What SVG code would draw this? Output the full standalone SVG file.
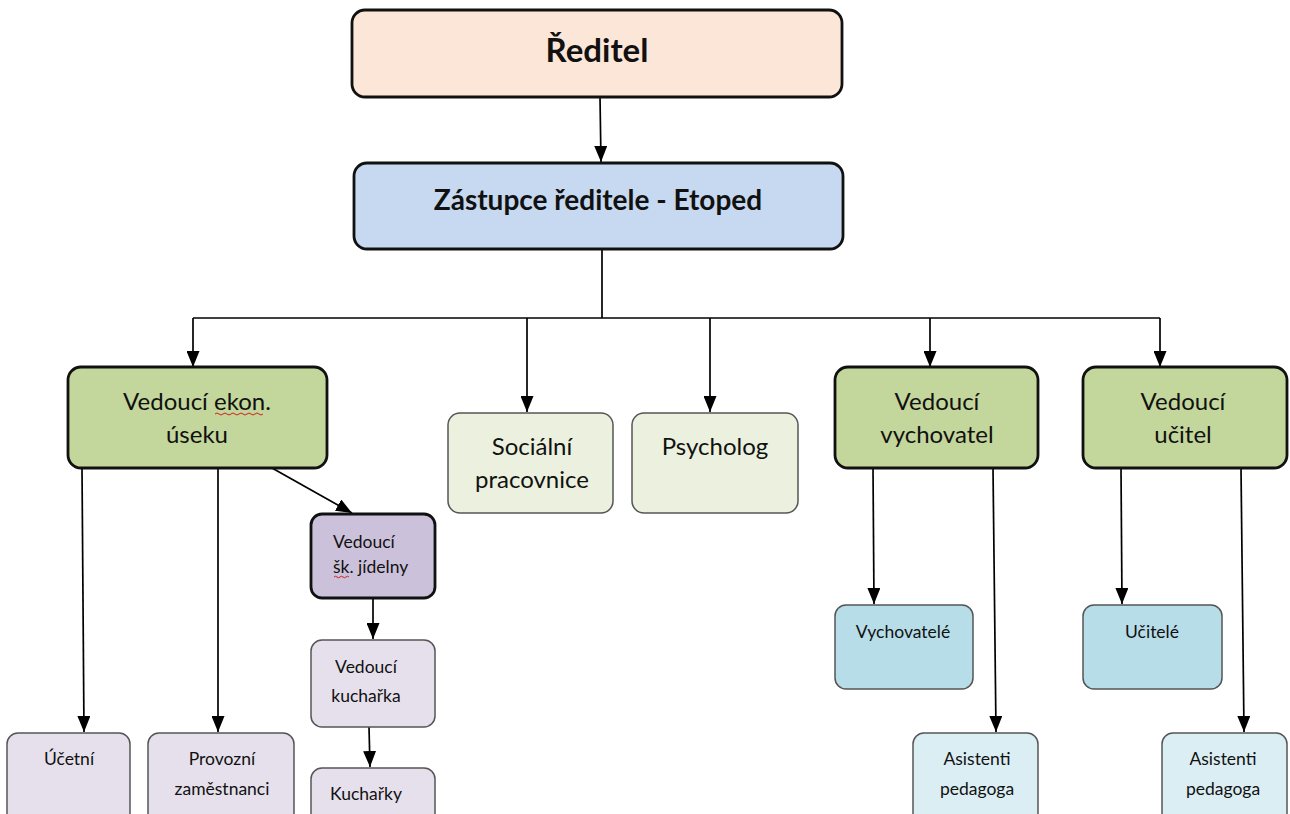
<svg xmlns="http://www.w3.org/2000/svg" width="1290" height="814" viewBox="0 0 1290 814">
<defs>
<marker id="ah" viewBox="0 0 16 13" refX="16" refY="6.5" markerWidth="16" markerHeight="13" markerUnits="userSpaceOnUse" orient="auto">
<path d="M0,0 L16,6.5 L0,13 Z" fill="#000"/>
</marker>
<style>
.thick{stroke:#111;stroke-width:2.8}
.thin{stroke:#555;stroke-width:1.5}
.t{font-family:Lato,"Liberation Sans",sans-serif;fill:#111;text-anchor:middle}
.big{font-size:33px;font-weight:bold}
.mid{font-size:28px;font-weight:bold}
.g{font-size:24px}
.s{font-size:17.5px}
.c line,.c path{stroke:#000;stroke-width:1.7;fill:none}
.sq{stroke:#d02020;stroke-width:1;fill:none}
</style>
</defs>
<rect width="1290" height="814" fill="#fff"/>
<g class="c" id="connectors">
<line x1="600" y1="97" x2="601" y2="162" marker-end="url(#ah)"/>
<line x1="602" y1="249" x2="602" y2="318"/>
<line x1="193" y1="318" x2="1160" y2="318"/>
<line x1="193" y1="318" x2="193" y2="367" marker-end="url(#ah)"/>
<line x1="527" y1="318" x2="527" y2="412" marker-end="url(#ah)"/>
<line x1="710" y1="318" x2="710" y2="412" marker-end="url(#ah)"/>
<line x1="930" y1="318" x2="930" y2="367" marker-end="url(#ah)"/>
<line x1="1160" y1="318" x2="1160" y2="367" marker-end="url(#ah)"/>
<line x1="82" y1="468" x2="84" y2="732" marker-end="url(#ah)"/>
<line x1="218" y1="468" x2="218" y2="732" marker-end="url(#ah)"/>
<line x1="272" y1="468" x2="352" y2="513" marker-end="url(#ah)"/>
<line x1="373" y1="598" x2="373" y2="639" marker-end="url(#ah)"/>
<line x1="369" y1="727" x2="370" y2="767" marker-end="url(#ah)"/>
<line x1="873" y1="468" x2="874" y2="604" marker-end="url(#ah)"/>
<line x1="993" y1="468" x2="996" y2="732" marker-end="url(#ah)"/>
<line x1="1121" y1="468" x2="1122" y2="604" marker-end="url(#ah)"/>
<line x1="1241" y1="468" x2="1244" y2="732" marker-end="url(#ah)"/>
</g>
<g id="reditel">
<rect x="352" y="10" width="490" height="87" rx="13" fill="#FCE6D8" class="thick"/>
<text class="t big" x="597" y="62">Ředitel</text>
</g>
<g id="zastupce">
<rect x="354" y="163" width="489" height="86" rx="13" fill="#C6D9F0" class="thick"/>
<text class="t mid" x="598" y="210">Zástupce ředitele - Etoped</text>
</g>
<g id="vedouci-ekon">
<rect x="68" y="367" width="259" height="101" rx="13" fill="#C3D69B" class="thick"/>
<text class="t g" x="197" y="410">Vedoucí ekon.</text>
<text class="t g" x="197" y="443">úseku</text>
<path class="sq" d="M215,414 q2,-2 4,0 t4,0 t4,0 t4,0 t4,0 t4,0 t4,0 t4,0 t4,0 t4,0 t4,0 t4,0"/>
</g>
<g id="socialni">
<rect x="448" y="413" width="165" height="100" rx="12" fill="#EBF1DE" class="thin"/>
<text class="t g" x="532" y="455">Sociální</text>
<text class="t g" x="532" y="488">pracovnice</text>
</g>
<g id="psycholog">
<rect x="632" y="413" width="166" height="100" rx="12" fill="#EBF1DE" class="thin"/>
<text class="t g" x="715" y="455">Psycholog</text>
</g>
<g id="vedouci-vychovatel">
<rect x="835" y="367" width="203" height="101" rx="13" fill="#C3D69B" class="thick"/>
<text class="t g" x="937" y="410">Vedoucí</text>
<text class="t g" x="937" y="443">vychovatel</text>
</g>
<g id="vedouci-ucitel">
<rect x="1083" y="367" width="204" height="101" rx="13" fill="#C3D69B" class="thick"/>
<text class="t g" x="1183" y="410">Vedoucí</text>
<text class="t g" x="1183" y="443">učitel</text>
</g>
<g id="jidelny">
<rect x="311" y="514" width="124" height="84" rx="11" fill="#CCC1DA" class="thick"/>
<text class="t s" x="333" y="548" style="text-anchor:start">Vedoucí</text>
<text class="t s" x="333" y="573" style="text-anchor:start">šk. jídelny</text>
<path class="sq" d="M334,577 q1.5,-1.5 3,0 t3,0 t3,0 t3,0 t3,0"/>
</g>
<g id="kucharka">
<rect x="311" y="640" width="124" height="87" rx="11" fill="#E5E0EC" class="thin"/>
<text class="t s" x="366" y="673">Vedoucí</text>
<text class="t s" x="366" y="702">kuchařka</text>
</g>
<g id="kucharky">
<rect x="311" y="768" width="124" height="70" rx="11" fill="#E5E0EC" class="thin"/>
<text class="t s" x="366" y="800">Kuchařky</text>
</g>
<g id="ucetni">
<rect x="7" y="733" width="123" height="100" rx="11" fill="#E5E0EC" class="thin"/>
<text class="t s" x="69" y="765">Účetní</text>
</g>
<g id="provozni">
<rect x="148" y="733" width="146" height="100" rx="11" fill="#E5E0EC" class="thin"/>
<text class="t s" x="222" y="765">Provozní</text>
<text class="t s" x="222" y="795">zaměstnanci</text>
</g>
<g id="vychovatele">
<rect x="835" y="605" width="138" height="84" rx="11" fill="#B7DDE8" class="thin"/>
<text class="t s" x="903" y="638">Vychovatelé</text>
</g>
<g id="ucitele">
<rect x="1083" y="605" width="139" height="84" rx="11" fill="#B7DDE8" class="thin"/>
<text class="t s" x="1152" y="638">Učitelé</text>
</g>
<g id="asistenti-1">
<rect x="913" y="733" width="125" height="100" rx="11" fill="#DBEEF3" class="thin"/>
<text class="t s" x="977" y="765">Asistenti</text>
<text class="t s" x="977" y="795">pedagoga</text>
</g>
<g id="asistenti-2">
<rect x="1162" y="733" width="125" height="100" rx="11" fill="#DBEEF3" class="thin"/>
<text class="t s" x="1223" y="765">Asistenti</text>
<text class="t s" x="1223" y="795">pedagoga</text>
</g>
</svg>
